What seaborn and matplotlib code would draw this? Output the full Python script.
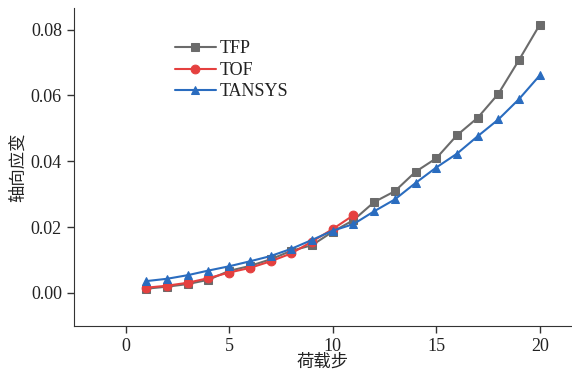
import pandas as pd
import matplotlib.pyplot as plt
import seaborn as sns

# 数据
steps = list(range(1, 21))
tfp = [0.0013, 0.0019, 0.0027, 0.0040, 0.0067, 0.0082, 0.0102, 0.0128, 0.0145, 0.0186,
       0.0221, 0.0276, 0.0309, 0.0368, 0.0409, 0.0479, 0.0532, 0.0605, 0.0708, 0.0815]
tof_steps = list(range(1, 12))
tof = [0.0016, 0.0022, 0.0031, 0.0045, 0.0062, 0.0076, 0.0096, 0.0120, 0.0156, 0.0194, 0.0236]
tansys = [0.0036, 0.0043, 0.0054, 0.0068, 0.0081, 0.0096, 0.0112, 0.0134, 0.0161, 0.0189,
          0.0209, 0.0248, 0.0284, 0.0334, 0.0381, 0.0423, 0.0476, 0.0527, 0.0589, 0.0661]

df = pd.concat([
    pd.DataFrame({"step": steps, "strain": tfp, "src": "TFP"}),
    pd.DataFrame({"step": tof_steps, "strain": tof, "src": "TOF"}),
    pd.DataFrame({"step": steps, "strain": tansys, "src": "TANSYS"}),
], ignore_index=True)

sns.set_style("ticks")
plt.rcParams["font.family"] = ["Liberation Serif", "Noto Sans CJK SC"]
plt.rcParams["axes.edgecolor"] = "#333333"

colors = {"TFP": "#6b6b6b", "TOF": "#e5403f", "TANSYS": "#2a6cbf"}
markers = {"TFP": "s", "TOF": "o", "TANSYS": "^"}

fig = plt.figure(figsize=(5.72, 3.72), dpi=100)
ax = fig.add_axes([0.129, 0.124, 0.869, 0.854])

sns.lineplot(data=df, x="step", y="strain", hue="src", style="src",
             palette=colors, markers=markers, dashes=False, markersize=6.3,
             linewidth=1.5, ax=ax)
# 标记边框与线同色
for ln in ax.get_lines():
    ln.set_markeredgecolor(ln.get_color())

ax.set_xlim(-2.5, 21.5)
ax.set_ylim(-0.01, 0.0865)
ax.set_xticks([0, 5, 10, 15, 20])
ax.set_yticks([0.0, 0.02, 0.04, 0.06, 0.08])
ax.set_yticklabels(["0.00", "0.02", "0.04", "0.06", "0.08"])
ax.tick_params(labelsize=13, length=5, width=1, colors="#333333", labelcolor="#222222")
ax.set_xlabel("荷载步", fontsize=12.5, labelpad=0, color="#222222")
ax.set_ylabel("轴向应变", fontsize=12.5, color="#222222")
ax.yaxis.set_label_coords(-0.094, 0.5)
sns.despine(ax=ax)

leg = ax.legend(loc="upper left", bbox_to_anchor=(0.17, 0.95), frameon=False,
                fontsize=13, handlelength=2.3, labelspacing=0.25, handletextpad=0.2)
for t in leg.get_texts():
    t.set_color("#222222")
for h in leg.legend_handles:
    h.set_markeredgecolor(h.get_color())

fig.savefig("out.png", dpi=100)
